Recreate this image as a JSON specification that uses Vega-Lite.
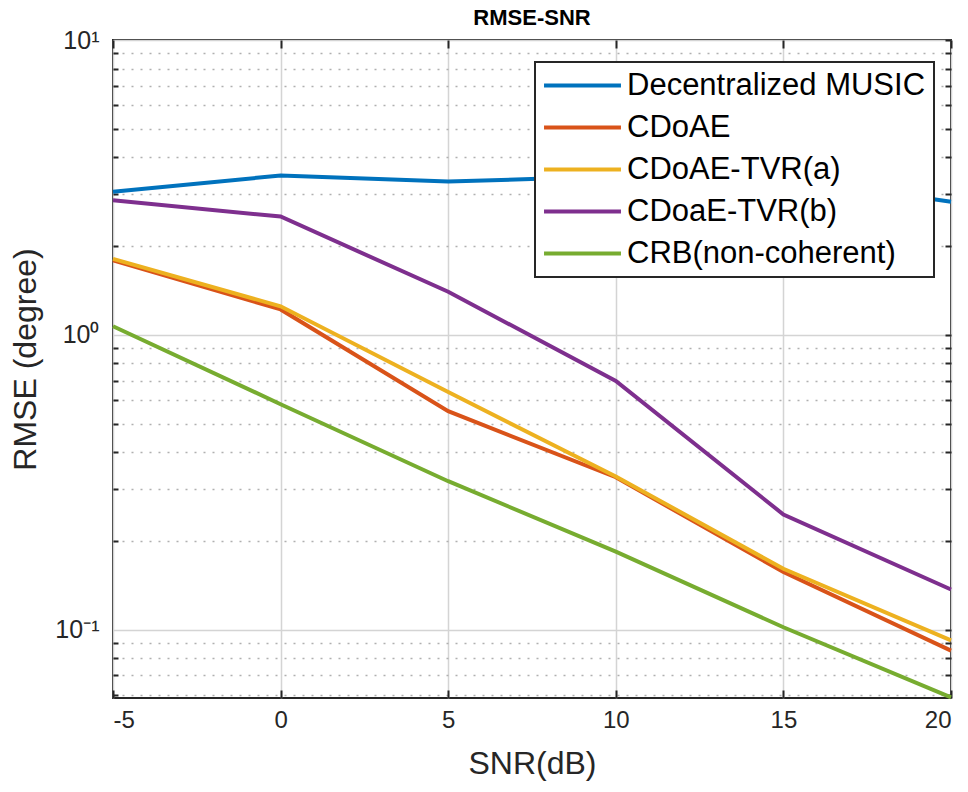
{
  "$schema": "https://vega.github.io/schema/vega-lite/v6.json",
  "width": 838,
  "height": 658,
  "autosize": {"type": "none"},
  "padding": {"left": 113, "top": 40, "right": 17, "bottom": 94},
  "background": "white",
  "config": {
    "font": "Liberation Sans",
    "view": {"stroke": "#262626", "strokeWidth": 2},
    "axis": {"domain": false, "labelColor": "#262626", "titleColor": "#262626", "labelFont": "Liberation Sans", "titleFont": "Liberation Sans", "titleFontWeight": "normal"}
  },
  "title": {"text": "RMSE-SNR", "fontSize": 22, "fontWeight": "bold", "font": "Liberation Sans", "color": "#000000", "anchor": "middle", "offset": -2},
  "data": {"values": [
    {"snr": -5, "rmse": 3.06, "method": "Decentralized MUSIC"},
    {"snr": 0, "rmse": 3.47, "method": "Decentralized MUSIC"},
    {"snr": 5, "rmse": 3.31, "method": "Decentralized MUSIC"},
    {"snr": 10, "rmse": 3.45, "method": "Decentralized MUSIC"},
    {"snr": 15, "rmse": 3.42, "method": "Decentralized MUSIC"},
    {"snr": 20, "rmse": 2.83, "method": "Decentralized MUSIC"},
    {"snr": -5, "rmse": 1.79, "method": "CDoAE"},
    {"snr": 0, "rmse": 1.22, "method": "CDoAE"},
    {"snr": 5, "rmse": 0.551, "method": "CDoAE"},
    {"snr": 10, "rmse": 0.329, "method": "CDoAE"},
    {"snr": 15, "rmse": 0.157, "method": "CDoAE"},
    {"snr": 20, "rmse": 0.085, "method": "CDoAE"},
    {"snr": -5, "rmse": 1.81, "method": "CDoAE-TVR(a)"},
    {"snr": 0, "rmse": 1.25, "method": "CDoAE-TVR(a)"},
    {"snr": 5, "rmse": 0.64, "method": "CDoAE-TVR(a)"},
    {"snr": 10, "rmse": 0.331, "method": "CDoAE-TVR(a)"},
    {"snr": 15, "rmse": 0.161, "method": "CDoAE-TVR(a)"},
    {"snr": 20, "rmse": 0.092, "method": "CDoAE-TVR(a)"},
    {"snr": -5, "rmse": 2.86, "method": "CDoaE-TVR(b)"},
    {"snr": 0, "rmse": 2.52, "method": "CDoaE-TVR(b)"},
    {"snr": 5, "rmse": 1.40, "method": "CDoaE-TVR(b)"},
    {"snr": 10, "rmse": 0.698, "method": "CDoaE-TVR(b)"},
    {"snr": 15, "rmse": 0.246, "method": "CDoaE-TVR(b)"},
    {"snr": 20, "rmse": 0.137, "method": "CDoaE-TVR(b)"},
    {"snr": -5, "rmse": 1.07, "method": "CRB(non-coherent)"},
    {"snr": 0, "rmse": 0.582, "method": "CRB(non-coherent)"},
    {"snr": 5, "rmse": 0.319, "method": "CRB(non-coherent)"},
    {"snr": 10, "rmse": 0.184, "method": "CRB(non-coherent)"},
    {"snr": 15, "rmse": 0.102, "method": "CRB(non-coherent)"},
    {"snr": 20, "rmse": 0.059, "method": "CRB(non-coherent)"}
  ]},
  "resolve": {"axis": {"x": "independent", "y": "independent"}},
  "layer": [
    {
      "mark": {"type": "line", "opacity": 0},
      "encoding": {
        "x": {"field": "snr", "type": "quantitative", "scale": {"domain": [-5, 20], "nice": false, "zero": false},
              "axis": {"orient": "top", "values": [-5, 0, 5, 10, 15, 20], "labels": false, "grid": false, "ticks": true, "tickSize": -8, "tickColor": "#262626", "tickWidth": 2, "title": null}},
        "y": {"field": "rmse", "type": "quantitative", "scale": {"type": "log", "domain": [0.0587, 10], "nice": false},
              "axis": {"orient": "left", "values": [0.06, 0.07, 0.08, 0.09, 0.2, 0.3, 0.4, 0.5, 0.6, 0.7, 0.8, 0.9, 2, 3, 4, 5, 6, 7, 8, 9], "labels": false, "grid": true, "gridDash": [2, 7], "gridColor": "#b0b0b0", "gridWidth": 1.5, "ticks": true, "tickSize": -5, "tickColor": "#262626", "tickWidth": 2, "title": null}},
        "detail": {"field": "method"}
      }
    },
    {
      "mark": {"type": "line", "opacity": 0},
      "encoding": {
        "x": {"field": "snr", "type": "quantitative", "scale": {"domain": [-5, 20], "nice": false, "zero": false},
              "axis": {"orient": "bottom", "values": [-5, 0, 5, 10, 15, 20], "labels": false, "grid": false, "ticks": true, "tickSize": -8, "tickColor": "#262626", "tickWidth": 2, "title": null}},
        "y": {"field": "rmse", "type": "quantitative", "scale": {"type": "log", "domain": [0.0587, 10], "nice": false},
              "axis": {"orient": "right", "values": [0.06, 0.07, 0.08, 0.09, 0.1, 0.2, 0.3, 0.4, 0.5, 0.6, 0.7, 0.8, 0.9, 1, 2, 3, 4, 5, 6, 7, 8, 9, 10], "labels": false, "grid": false, "ticks": true, "tickSize": -6, "tickColor": "#262626", "tickWidth": 2, "title": null}},
        "detail": {"field": "method"}
      }
    },
    {
      "mark": {"type": "line", "strokeWidth": 4},
      "encoding": {
        "x": {"field": "snr", "type": "quantitative", "scale": {"domain": [-5, 20], "nice": false, "zero": false},
              "axis": {"orient": "bottom", "values": [-5, 0, 5, 10, 15, 20], "grid": true, "gridColor": "#d4d4d4", "gridWidth": 1.5, "ticks": false, "labelFontSize": 24, "labelPadding": 10,
                       "labelExpr": "toString(datum.value)",
                       "title": "SNR(dB)", "titleFontSize": 32, "titlePadding": 16}},
        "y": {"field": "rmse", "type": "quantitative", "scale": {"type": "log", "domain": [0.0587, 10], "nice": false},
              "axis": {"orient": "left", "values": [0.1, 1, 10], "grid": true, "gridColor": "#d4d4d4", "gridWidth": 1.5, "ticks": false, "labelFontSize": 25, "labelPadding": 14,
                       "labelExpr": "datum.value >= 9 ? '10¹' : (datum.value >= 0.9 ? '10⁰' : '10⁻¹')",
                       "title": "RMSE (degree)", "titleFontSize": 32, "titlePadding": 12, "titleY": 319}},
        "color": {"field": "method", "type": "nominal",
                  "scale": {"domain": ["Decentralized MUSIC", "CDoAE", "CDoAE-TVR(a)", "CDoaE-TVR(b)", "CRB(non-coherent)"],
                            "range": ["#0072BD", "#D95319", "#EDB120", "#7E2F8E", "#77AC30"]},
                  "legend": {"orient": "none", "legendX": 422, "legendY": 22, "title": null,
                             "symbolType": "M-4,0H4", "symbolSize": 370, "symbolStrokeWidth": 4, "symbolOffset": 24,
                             "labelFontSize": 31, "labelFont": "Liberation Sans", "labelColor": "#000000", "labelLimit": 500, "labelOffset": 29,
                             "rowPadding": 10, "padding": 8, "fillColor": "white", "strokeColor": "#262626",
                             "encode": {"legend": {"update": {"strokeWidth": {"value": 2}}}}}}
      }
    }
  ]
}
